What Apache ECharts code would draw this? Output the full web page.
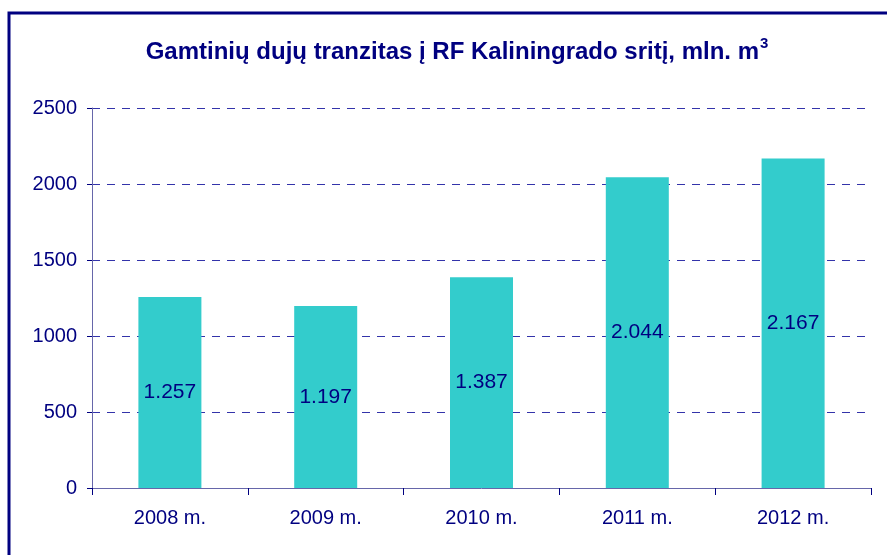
<!DOCTYPE html>
<html style="height: 100%">
<head>
<meta charset="UTF-8">
<script src="https://cdn.jsdelivr.net/npm/echarts@6.0.0/dist/echarts.min.js"></script>
</head>
<body style="height: 100%; margin: 0; background: #fff">
<div id="container" style="width: 887px; height: 555px"></div>
<script type="text/javascript">
var categories = ['2008 m.', '2009 m.', '2010 m.', '2011 m.', '2012 m.'];
var values = [1257, 1197, 1387, 2044, 2167];
var valueLabels = ['1.257', '1.197', '1.387', '2.044', '2.167'];

var navy = '#000080';
var myChart = echarts.init(document.getElementById('container'));
var option = {
    animation: false,
    textStyle: { fontFamily: 'Liberation Sans, Arial, sans-serif' },
    graphic: [{
        type: 'rect',
        shape: { x: 9, y: 13, width: 1000, height: 1000 },
        style: { fill: 'none', stroke: navy, lineWidth: 3 },
        silent: true
    }],
    title: {
        text: '{t|Gamtinių dujų tranzitas į RF Kaliningrado sritį, mln. m}{s|3}',
        left: 452,
        textAlign: 'center',
        top: 31,
        textStyle: {
            rich: {
                t: { fontSize: 24, fontWeight: 'bold', color: navy, fontFamily: 'Liberation Sans' },
                s: { fontSize: 15, fontWeight: 'bold', color: navy, fontFamily: 'Liberation Sans', verticalAlign: 'bottom', padding: [0, 0, 18, 1] }
            }
        }
    },
    grid: { left: 92, right: 16, top: 108, bottom: 67, containLabel: false },
    xAxis: {
        type: 'category',
        data: categories,
        axisLine: { lineStyle: { color: '#6666aa', width: 1 } },
        axisTick: { show: true, length: 7, lineStyle: { color: navy } },
        axisLabel: { color: navy, fontSize: 20, margin: 20 }
    },
    yAxis: {
        type: 'value',
        min: 0,
        max: 2500,
        interval: 500,
        axisLine: { show: true, lineStyle: { color: '#6666aa' } },
        axisTick: { show: true, length: 5, lineStyle: { color: navy } },
        axisLabel: { color: navy, fontSize: 20, margin: 15, formatter: function (v) { return String(v); } },
        splitLine: { show: true, lineStyle: { color: '#3333aa', type: [8, 7], width: 1 } }
    },
    series: [{
        type: 'bar',
        data: values,
        barWidth: 63,
        itemStyle: { color: '#33CCCC' },
        label: {
            show: true,
            position: 'inside',
            color: navy,
            fontSize: 21,
            formatter: function (p) { return valueLabels[p.dataIndex]; }
        }
    }]
};
myChart.setOption(option);
</script>
</body>
</html>
